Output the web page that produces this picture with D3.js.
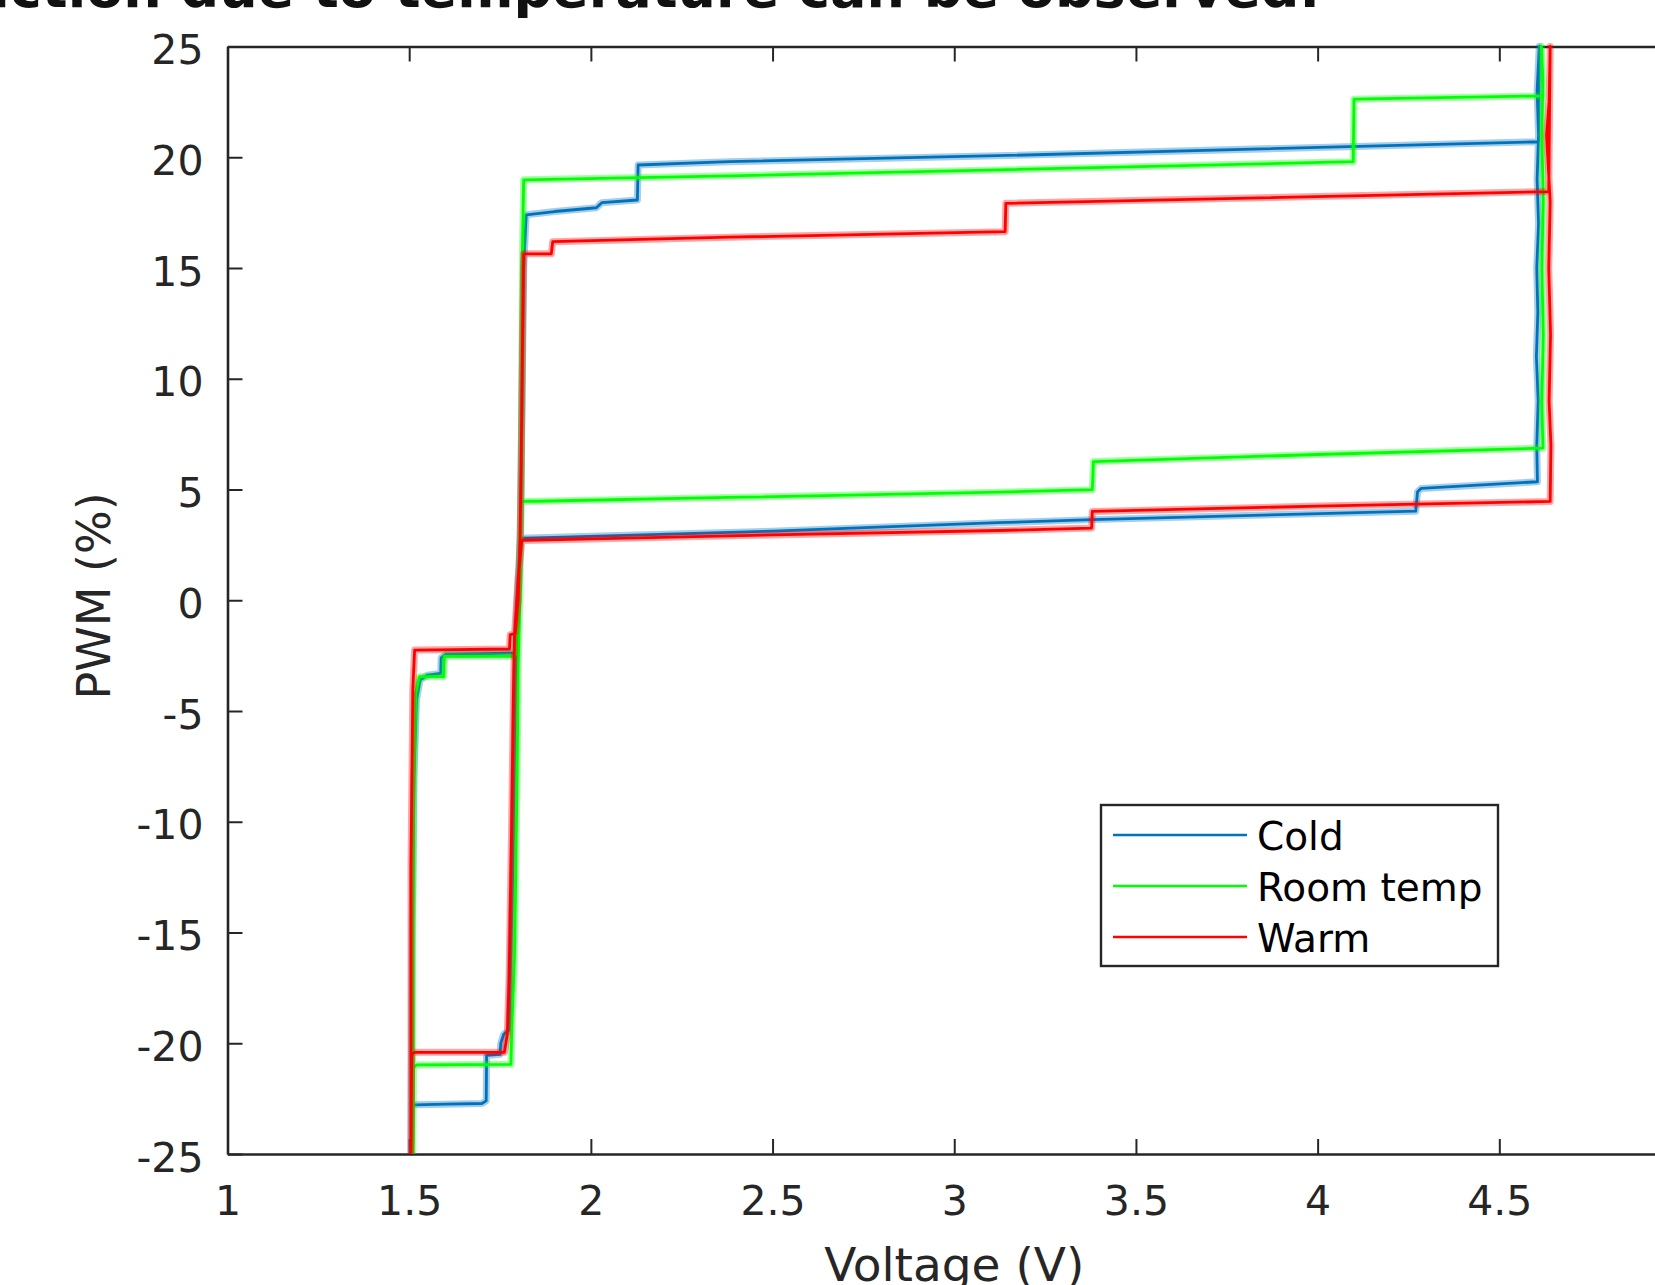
<!DOCTYPE html>
<html>
<head>
<meta charset="utf-8">
<script src="https://cdn.jsdelivr.net/npm/d3@7/dist/d3.min.js"></script>
<style>
    html, body { margin: 0; padding: 0; background: #fff; }
    svg { display: block; font-family: "DejaVu Sans", sans-serif; }
    .tick text { fill: #262626; }
</style>
</head>
<body>
<div id="chart"></div>
<script>
// Series names and colours (MATLAB style)
const seriesNames = ["Cold", "Room temp", "Warm"];
const seriesColors = ["#0072bd", "#00ff00", "#ff0000"];

// [voltage (V), PWM (%)] traced around each hysteresis loop
const coldData = [
    [1.505, -25.0], [1.507, -22.9], [1.515, -22.78], [1.60, -22.75], [1.70, -22.72],
    [1.712, -22.6], [1.713, -20.55], [1.75, -20.5], [1.752, -20.0], [1.76, -19.6],
    [1.775, -19.4], [1.778, -17.0], [1.785, -12.0], [1.79, -6.0], [1.795, -1.0],
    [1.80, 1.0], [1.806, 2.8], [1.85, 2.82], [2.5, 3.12], [3.12, 3.5],
    [3.38, 3.64], [3.9, 3.87], [4.27, 4.02], [4.275, 4.9], [4.285, 5.05],
    [4.605, 5.35], [4.603, 7.0], [4.607, 9.0], [4.602, 11.0], [4.606, 13.0],
    [4.603, 15.0], [4.608, 17.0], [4.604, 19.0], [4.608, 21.0], [4.604, 23.0],
    [4.61, 25.0], [4.608, 20.7], [3.12, 20.07], [2.38, 19.8], [2.13, 19.65],
    [2.128, 18.07], [2.03, 17.95], [2.015, 17.72], [1.9, 17.55], [1.822, 17.4],
    [1.815, 15.0], [1.81, 8.0], [1.806, 2.8], [1.80, 0.0], [1.795, -2.1],
    [1.79, -2.38], [1.60, -2.45], [1.588, -2.6], [1.587, -3.3], [1.55, -3.38],
    [1.53, -3.6], [1.52, -4.5], [1.513, -8.0], [1.508, -15.0], [1.505, -25.0]
];
const roomData = [
    [1.51, -25.0], [1.512, -21.1], [1.52, -20.98], [1.78, -20.95], [1.782, -19.6],
    [1.79, -16.0], [1.797, -8.0], [1.80, -3.0], [1.805, 0.5], [1.808, 4.46],
    [1.85, 4.47], [2.38, 4.64], [3.12, 4.88], [3.38, 4.99], [3.383, 6.26],
    [4.0, 6.58], [4.62, 6.87], [4.617, 9.0], [4.621, 12.0], [4.617, 15.0],
    [4.621, 18.0], [4.617, 21.0], [4.62, 23.5], [4.616, 25.0], [4.62, 22.77],
    [4.10, 22.62], [4.098, 19.8], [3.12, 19.43], [2.38, 19.16], [1.815, 18.98],
    [1.812, 16.0], [1.81, 10.0], [1.808, 4.46], [1.80, -1.0], [1.795, -2.4],
    [1.79, -2.53], [1.597, -2.53], [1.595, -3.45], [1.528, -3.45], [1.518, -4.2],
    [1.513, -8.0], [1.51, -15.0], [1.51, -25.0]
];
const warmData = [
    [1.505, -25.0], [1.507, -20.5], [1.515, -20.41], [1.762, -20.41], [1.77, -19.6],
    [1.775, -17.0], [1.782, -10.0], [1.787, -4.0], [1.79, -1.5], [1.80, 1.0],
    [1.81, 2.7], [1.85, 2.71], [2.5, 2.95], [3.124, 3.15], [3.378, 3.26],
    [3.38, 4.01], [4.0, 4.25], [4.64, 4.46], [4.642, 7.0], [4.637, 9.0],
    [4.641, 12.0], [4.636, 15.0], [4.64, 18.0], [4.63, 21.0], [4.637, 22.5],
    [4.64, 25.0], [4.636, 18.45], [3.142, 17.92], [3.14, 16.64], [2.38, 16.39],
    [1.895, 16.19], [1.891, 15.64], [1.815, 15.64], [1.812, 12.0], [1.808, 6.0],
    [1.805, 2.7], [1.80, 0.0], [1.792, -1.5], [1.778, -1.55], [1.776, -2.2],
    [1.515, -2.25], [1.51, -4.0], [1.505, -12.0], [1.505, -25.0]
];

// Axis ticks
const xTicks = [1, 1.5, 2, 2.5, 3, 3.5, 4, 4.5];
const yTicks = [-25, -20, -15, -10, -5, 0, 5, 10, 15, 20, 25];

const Chart = (function() {
    const width = 1655, height = 1285;
    // plot box; right edge lies past the picture, as in the reference crop
    const plot = { left: 227.5, right: 1681, top: 46.5, bottom: 1154 };
    const axisColor = "#262626";

    function render(selector) {
        const svg = d3.select(selector)
            .append("svg")
            .attr("width", width)
            .attr("height", height);

        svg.append("rect").attr("width", width).attr("height", height).attr("fill", "#fff");

        // Cut-off line of text from the surrounding document
        svg.append("text")
            .attr("x", 1320)
            .attr("y", 7)
            .attr("text-anchor", "end")
            .style("font-size", "54px")
            .style("font-weight", "bold")
            .style("fill", "#111")
            .text("friction due to temperature can be observed.");

        const x = d3.scaleLinear().domain([1, 5]).range([plot.left, plot.right]);
        const y = d3.scaleLinear().domain([-25, 25]).range([plot.bottom, plot.top]);

        const fmt = d => String(d);

        // Bottom axis with labels
        const gx = svg.append("g")
            .attr("transform", `translate(0,${plot.bottom})`)
            .call(d3.axisBottom(x).tickValues(xTicks).tickFormat(fmt)
                .tickSizeInner(-15).tickSizeOuter(0).tickPadding(32));
        // Left axis with labels
        const gy = svg.append("g")
            .attr("transform", `translate(${plot.left},0)`)
            .call(d3.axisLeft(y).tickValues(yTicks).tickFormat(fmt)
                .tickSizeInner(-15).tickSizeOuter(0).tickPadding(24));
        // Top and right axes, ticks only
        const gt = svg.append("g")
            .attr("transform", `translate(0,${plot.top})`)
            .call(d3.axisTop(x).tickValues(xTicks).tickFormat("")
                .tickSizeInner(-15).tickSizeOuter(0));
        const gr = svg.append("g")
            .attr("transform", `translate(${plot.right},0)`)
            .call(d3.axisRight(y).tickValues(yTicks).tickFormat("")
                .tickSizeInner(-15).tickSizeOuter(0));

        [gx, gy, gt, gr].forEach(g => {
            g.select(".domain").attr("stroke", axisColor).attr("stroke-width", 2.6);
            g.selectAll(".tick line").attr("stroke", axisColor).attr("stroke-width", 2);
            g.selectAll(".tick text")
                .attr("font-family", "DejaVu Sans")
                .attr("font-size", 41);
        });
        gy.selectAll(".tick text").attr("dy", "0.42em");

        // Data lines: soft halo under a solid core
        const line = d3.line().x(d => x(d[0])).y(d => y(d[1]));
        const allData = [coldData, roomData, warmData];
        const lines = svg.append("g");
        allData.forEach((data, i) => {
            lines.append("path")
                .datum(data)
                .attr("d", line)
                .attr("fill", "none")
                .attr("stroke", seriesColors[i])
                .attr("stroke-opacity", 0.35)
                .attr("stroke-width", 7)
                .attr("stroke-linejoin", "round");
            lines.append("path")
                .datum(data)
                .attr("d", line)
                .attr("fill", "none")
                .attr("stroke", seriesColors[i])
                .attr("stroke-width", 2.8)
                .attr("stroke-linejoin", "round");
        });

        // Axis titles
        svg.append("text")
            .attr("x", (plot.left + plot.right) / 2)
            .attr("y", 1281)
            .attr("text-anchor", "middle")
            .style("font-size", "47px")
            .style("fill", axisColor)
            .text("Voltage (V)");

        svg.append("text")
            .attr("transform", "translate(110,596) rotate(-90)")
            .attr("text-anchor", "middle")
            .style("font-size", "46px")
            .style("fill", axisColor)
            .text("PWM (%)");

        // Legend
        const legend = svg.append("g").attr("transform", "translate(1101,805)");
        legend.append("rect")
            .attr("width", 397)
            .attr("height", 161)
            .attr("fill", "#fff")
            .attr("stroke", axisColor)
            .attr("stroke-width", 2.4);
        seriesNames.forEach((name, i) => {
            const ly = 30 + i * 51;
            legend.append("line")
                .attr("x1", 12).attr("x2", 146)
                .attr("y1", ly).attr("y2", ly)
                .attr("stroke", seriesColors[i])
                .attr("stroke-width", 2.6);
            legend.append("text")
                .attr("x", 156)
                .attr("y", ly + 15)
                .style("font-size", "39px")
                .style("fill", "#000")
                .text(name);
        });
    }

    return { render: render };
})();

Chart.render("#chart");
</script>
</body>
</html>
